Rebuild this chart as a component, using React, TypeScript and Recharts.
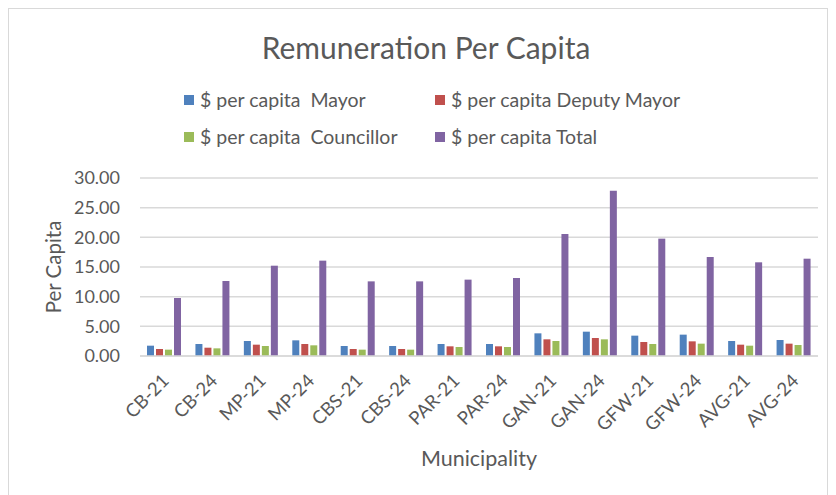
import React from 'react';
import { BarChart, Bar, XAxis, YAxis, CartesianGrid, Legend } from 'recharts';

const municipalities = ['CB-21', 'CB-24', 'MP-21', 'MP-24', 'CBS-21', 'CBS-24', 'PAR-21', 'PAR-24', 'GAN-21', 'GAN-24', 'GFW-21', 'GFW-24', 'AVG-21', 'AVG-24'];
const mayor = [1.74, 2.02, 2.53, 2.64, 1.69, 1.69, 2.02, 2.02, 3.82, 4.1, 3.43, 3.6, 2.53, 2.7];
const deputyMayor = [1.18, 1.4, 1.91, 2.02, 1.18, 1.18, 1.63, 1.63, 2.81, 3.03, 2.36, 2.47, 1.91, 2.08];
const councillor = [1.07, 1.29, 1.69, 1.8, 1.07, 1.07, 1.52, 1.52, 2.53, 2.81, 2.02, 2.08, 1.74, 1.85];
const total = [9.78, 12.64, 15.22, 16.07, 12.58, 12.58, 12.87, 13.15, 20.56, 27.87, 19.78, 16.69, 15.79, 16.4];
const yTicks = [0, 5, 10, 15, 20, 25, 30];

const series = [
  { key: 'mayor', name: '$ per capita  Mayor', color: '#4F81BD' },
  { key: 'deputy', name: '$ per capita Deputy Mayor', color: '#C0504D' },
  { key: 'councillor', name: '$ per capita  Councillor', color: '#9BBB59' },
  { key: 'total', name: '$ per capita Total', color: '#8064A2' },
];

const data = municipalities.map((m, i) => ({
  name: m,
  mayor: mayor[i],
  deputy: deputyMayor[i],
  councillor: councillor[i],
  total: total[i],
}));

const FONT = 'Lato, "Open Sans", sans-serif';
const TEXT = '#595959';

// rotated category labels, end of text sits just right of the tick
const XTick = ({ x, y, payload }: any) => (
  <text
    x={x + 6}
    y={y + 18}
    transform={`rotate(-45, ${x + 6}, ${y + 18})`}
    textAnchor="end"
    fill={TEXT}
    fontSize={18.5}
    fontFamily={FONT}
  >
    {payload.value}
  </text>
);

const LegendBox = () => (
  <div style={{ position: 'relative', height: 89, fontFamily: FONT, fontSize: 19.5, color: TEXT }}>
    {series.map((s, i) => (
      <div
        key={s.key}
        style={{
          position: 'absolute',
          left: i % 2 === 0 ? 175 : 426,
          top: i < 2 ? 0 : 37,
          display: 'flex',
          alignItems: 'center',
          whiteSpace: 'pre',
          lineHeight: '22px',
        }}
      >
        <span style={{ width: 10, height: 10, background: s.color, marginRight: 6, display: 'inline-block' }} />
        {s.name}
      </div>
    ))}
  </div>
);

const YLabel = ({ viewBox }: any) => {
  const cy = viewBox.y + viewBox.height / 2;
  return (
    <text x={44} y={cy} transform={`rotate(-90, 44, ${cy})`} textAnchor="middle" dominantBaseline="central" fill={TEXT} fontSize={20.5} fontFamily={FONT}>
      Per Capita
    </text>
  );
};

export default function App() {
  return (
    <div style={{ position: 'relative', width: 818, height: 490, border: '1px solid #d9d9d9', background: '#fff' }}>
      <div style={{ position: 'absolute', top: 21, left: 8, width: 818, textAlign: 'center', fontFamily: FONT, fontSize: 30, color: TEXT, lineHeight: '34px' }}>
        Remuneration Per Capita
      </div>
      <BarChart width={818} height={490} data={data} margin={{ top: 80, right: 9, bottom: 0, left: 0 }} barSize={7} barGap={2}>
        <CartesianGrid vertical={false} stroke="#d9d9d9" strokeWidth={1.5} />
        <XAxis
          dataKey="name"
          interval={0}
          height={143}
          tickLine={false}
          axisLine={{ stroke: '#d9d9d9', strokeWidth: 1.5 }}
          tick={<XTick />}
          label={{ value: 'Municipality', position: 'insideBottom', offset: 33, fill: TEXT, fontSize: 21.5, fontFamily: FONT }}
        />
        <YAxis
          width={131}
          domain={[0, 30]}
          ticks={yTicks}
          tickFormatter={(v: number) => v.toFixed(2)}
          tickLine={false}
          axisLine={false}
          tickMargin={14}
          tick={{ fill: TEXT, fontSize: 18, fontFamily: FONT }}
          label={<YLabel />}
        />
        <Legend verticalAlign="top" content={<LegendBox />} />
        {series.map((s) => (
          <Bar key={s.key} dataKey={s.key} name={s.name} fill={s.color} isAnimationActive={false} />
        ))}
      </BarChart>
    </div>
  );
}
